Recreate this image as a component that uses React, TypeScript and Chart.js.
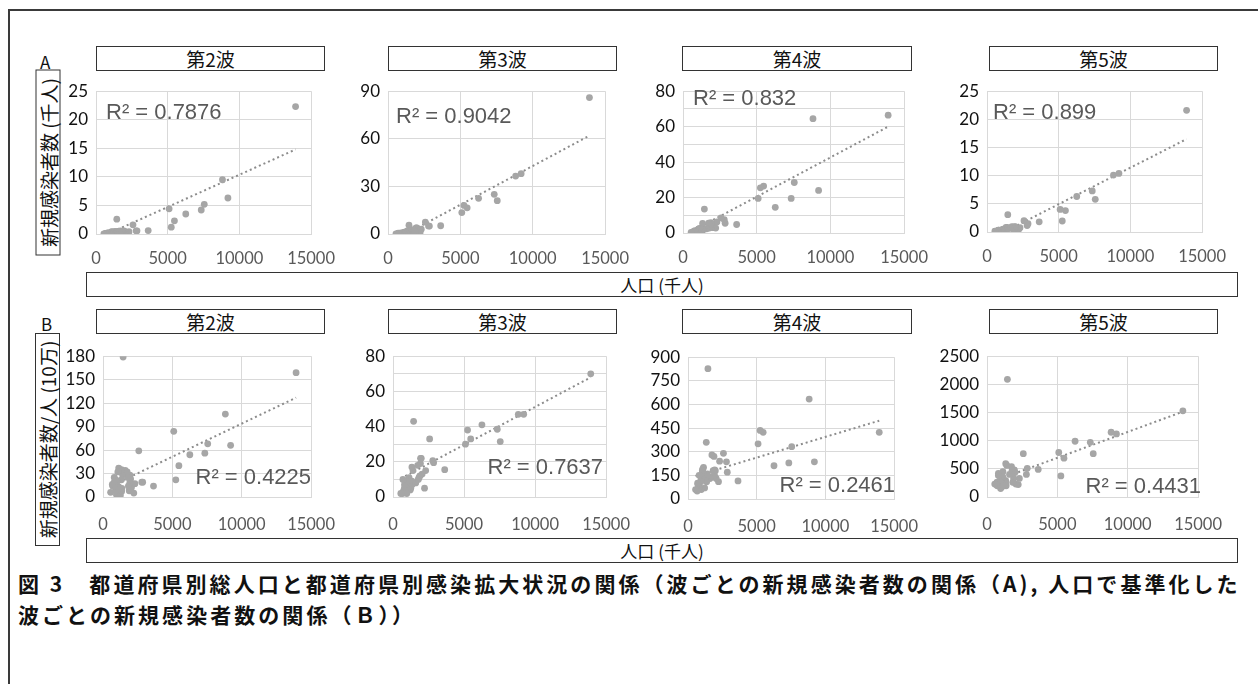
import React, { useEffect, useRef } from "react";
import { Chart, registerables } from "chart.js";
Chart.register(...registerables);

// Prefecture population (thousands)
const population = [13920, 9200, 8820, 7550, 7340, 6260, 5470, 5250, 5100, 3640, 2860, 2800, 2580, 2300, 2220, 2050, 1990, 1940, 1930, 1890, 1830, 1780, 1740, 1600, 1450, 1410, 1360, 1340, 1330, 1330, 1250, 1210, 1130, 1130, 1070, 1070, 1040, 970, 950, 930, 810, 810, 770, 730, 700, 670, 550];

// A: new cases per wave
const casesWave2 = [22.3, 6.3, 9.5, 5.2, 4.2, 3.5, 2.3, 1.2, 4.4, 0.6, 0.55, 0.55, 1.6, 0.4, 0.1, 0.25, 0.45, 0.55, 0.35, 0.15, 0.25, 0.45, 0.55, 0.5, 2.6, 0.4, 0.15, 0.1, 0.45, 0.3, 0.03, 0.03, 0.4, 0.15, 0.35, 0.05, 0.2, 0.03, 0.08, 0.2, 0.2, 0.15, 0.1, 0.1, 0.1, 0.1, 0.03];
const casesWave3 = [86, 38, 36.5, 21, 25, 22.5, 16.5, 18, 13.5, 5.2, 5.0, 5.1, 7.5, 3.0, 1.0, 2.3, 3.9, 3.8, 3.2, 2.0, 1.8, 1.6, 2.8, 1.1, 5.5, 1.9, 1.0, 0.8, 2.0, 1.1, 0.55, 0.4, 1.1, 0.8, 0.85, 0.55, 0.45, 0.2, 0.4, 0.75, 0.35, 0.5, 0.3, 0.2, 0.6, 0.12, 0.1];
const casesWave4 = [66.5, 24, 64.5, 28.5, 19.5, 14.5, 26.5, 25.5, 19.5, 4.8, 5.5, 7.5, 8.5, 6.2, 2.8, 3.0, 4.0, 4.1, 3.3, 5.8, 3.7, 2.8, 5.5, 2.35, 13.5, 2.55, 1.7, 2.0, 5.4, 2.1, 1.7, 0.95, 2.55, 1.9, 2.05, 2.3, 2.1, 0.65, 1.3, 1.15, 1.35, 0.75, 0.6, 0.75, 0.8, 0.4, 0.4];
const casesWave5 = [21.6, 10.4, 10.1, 5.8, 7.3, 6.3, 3.8, 1.95, 4.0, 1.8, 1.48, 1.14, 2.0, 0.77, 0.5, 0.48, 0.89, 0.94, 0.84, 0.63, 0.48, 0.85, 0.95, 0.65, 3.07, 0.8, 0.28, 0.31, 0.8, 0.39, 0.36, 0.26, 0.52, 0.4, 0.41, 0.2, 0.26, 0.15, 0.29, 0.25, 0.35, 0.31, 0.2, 0.15, 0.18, 0.15, 0.13];

// B: new cases per population
const perCapWave2 = [159, 66, 106, 68, 56, 54, 40, 22, 84, 14, 19, 19, 59, 17, 5, 12, 23, 28, 18, 8, 14, 25, 32, 34, 179, 28, 11, 7, 35, 22, 2, 2.5, 37, 13, 32, 5, 20, 3, 9, 22, 25, 19, 14, 14, 14, 16, 6];
const perCapWave3 = [70, 47, 47, 31.5, 38.5, 41, 33, 38, 30, 15.5, 19.5, 20.6, 33, 15, 5, 13, 22, 22, 19, 12, 11, 10, 18, 8, 43, 15, 8, 7, 17, 9, 5, 4, 11, 8, 9, 6, 5, 2, 5, 9, 5, 7, 4, 3, 10, 2, 2];
const perCapWave4 = [423, 236, 634, 332, 229, 211, 423, 435, 350, 115, 170, 236, 290, 240, 110, 130, 180, 185, 150, 270, 180, 140, 280, 130, 827, 160, 110, 130, 360, 140, 120, 70, 200, 150, 170, 190, 180, 60, 120, 110, 150, 80, 70, 90, 100, 50, 60];
const perCapWave5 = [1530, 1120, 1150, 770, 970, 990, 690, 375, 790, 490, 510, 400, 770, 330, 220, 230, 440, 480, 430, 330, 260, 470, 540, 400, 2090, 560, 200, 230, 590, 290, 280, 210, 450, 350, 380, 180, 250, 150, 300, 270, 420, 380, 250, 200, 260, 220, 230];

// Linear trend line values at the smallest and largest population
const trendStartA = [-0.3, -3.3, 0.75, -0.83];
const trendEndA = [14.8, 62, 60, 16.5];
const trendStartB = [13.8, 10.5, 146, 287];
const trendEndB = [127, 68, 497, 1515];

const waveTitles = ["第2波", "第3波", "第4波", "第5波"];
const r2A = ["R² = 0.7876", "R² = 0.9042", "R² = 0.832", "R² = 0.899"];
const r2B = ["R² = 0.4225", "R² = 0.7637", "R² = 0.2461", "R² = 0.4431"];

const yMaxA = [25, 90, 80, 25];
const yStepA = [5, 30, 10, 5];
const yLabelStepA = [5, 30, 20, 5];
const yMaxB = [180, 80, 900, 2500];
const yStepB = [30, 10, 150, 500];
const yLabelStepB = [30, 20, 150, 500];
const xTicks = [0, 5000, 10000, 15000];

// layout (page pixels)
const rectsA: number[][] = [[96, 85, 320, 234], [388, 85, 614, 234], [683, 85, 913, 233], [987, 85, 1211, 232]];
const rectsB: number[][] = [[103, 350, 323, 497], [393, 350, 618, 497], [688, 351, 906, 499], [987, 350, 1210, 497]];
const r2PosA = [[10, 28], [8, 32], [10, 14], [6, 28]];
const r2PosB = [[0, -13], [-3, -23], [1, -7], [3, -4]];
const titleBoxX = [[96, 325], [388, 617], [682, 912], [989, 1218]];

type PanelProps = {
  ys: number[];
  trend: [number, number];
  yMax: number;
  yStep: number;
  labelStep: number;
  rect: number[];
  r2: string;
  r2Pos: number[];
  r2Align: "left" | "right";
  xPad: number;
};

const YW = 50;
const XH = 42;
const PT = 12;
const PR = 30;

function Panel(p: PanelProps) {
  const ref = useRef<HTMLCanvasElement | null>(null);
  const [l, t, r, b] = p.rect;
  const w = YW + (r - l) + PR;
  const h = PT + (b - t) + XH;
  useEffect(() => {
    if (!ref.current) return;
    const pts = population.map((x, i) => ({ x, y: p.ys[i] }));
    const xmin = Math.min(...population);
    const xmax = Math.max(...population);
    const label = {
      id: "r2label",
      afterDatasetsDraw(chart: any) {
        const ctx = chart.ctx;
        const a = chart.chartArea;
        ctx.save();
        ctx.font = '22px "Liberation Sans", Arial, sans-serif';
        ctx.fillStyle = "#595959";
        ctx.textBaseline = "alphabetic";
        if (p.r2Align === "left") {
          ctx.textAlign = "left";
          ctx.fillText(p.r2, a.left + p.r2Pos[0], a.top + p.r2Pos[1]);
        } else {
          ctx.textAlign = "right";
          ctx.fillText(p.r2, a.right + p.r2Pos[0], a.bottom + p.r2Pos[1]);
        }
        ctx.restore();
      },
    };
    const chart = new Chart(ref.current, {
      type: "scatter",
      data: {
        datasets: [
          {
            data: pts,
            backgroundColor: "#a6a6a6",
            borderWidth: 0,
            pointRadius: 3.4,
            pointHoverRadius: 3.4,
          },
          {
            type: "line",
            data: [
              { x: xmin, y: p.trend[0] },
              { x: xmax, y: p.trend[1] },
            ],
            borderColor: "#8c8c8c",
            borderWidth: 2,
            borderDash: [2, 3],
            pointRadius: 0,
            fill: false,
          } as any,
        ],
      },
      options: {
        animation: false,
        responsive: false,
        events: [],
        layout: { padding: { left: 0, right: PR, top: PT, bottom: 0 } },
        plugins: { legend: { display: false }, tooltip: { enabled: false } },
        scales: {
          x: {
            type: "linear",
            min: 0,
            max: 15000,
            afterBuildTicks: (s: any) => {
              s.ticks = xTicks.map((v) => ({ value: v }));
            },
            afterFit: (s: any) => {
              s.height = XH;
            },
            grid: { color: "#d9d9d9", drawTicks: false, lineWidth: 1 },
            border: { color: "#d9d9d9" },
            ticks: {
              autoSkip: false,
              maxRotation: 0,
              padding: p.xPad,
              color: "#595959",
              font: { family: "Lato", size: 16.5 },
              callback: (v: any) => String(v),
            },
          },
          y: {
            type: "linear",
            min: 0,
            max: p.yMax,
            ticks: {
              stepSize: p.yStep,
              autoSkip: false,
              padding: 8,
              color: "#111",
              font: { family: "Lato", size: 17 },
              callback: (v: any) => (Math.round(v) % p.labelStep === 0 ? String(v) : ""),
            },
            afterFit: (s: any) => {
              s.width = YW;
            },
            grid: { color: "#d9d9d9", drawTicks: false, lineWidth: 1 },
            border: { color: "#d9d9d9" },
          },
        },
      },
      plugins: [label],
    });
    return () => chart.destroy();
  }, []);
  return (
    <canvas
      ref={ref}
      width={w}
      height={h}
      style={{ position: "absolute", left: l - YW, top: t - PT, width: w, height: h }}
    />
  );
}

const jp = '"Noto Sans CJK JP", "Noto Sans", sans-serif';

function Box(props: { l: number; t: number; r: number; b: number; text: string; size?: number }) {
  return (
    <div
      style={{
        position: "absolute",
        left: props.l,
        top: props.t,
        width: props.r - props.l,
        height: props.b - props.t,
        border: "1.5px solid #333",
        boxSizing: "border-box",
        display: "flex",
        alignItems: "center",
        justifyContent: "center",
        font: `${props.size || 19}px ${jp}`,
        color: "#111",
        background: "#fff",
        whiteSpace: "nowrap",
      }}
    >
      {props.text}
    </div>
  );
}

function VBox(props: { cx: number; t: number; b: number; text: string }) {
  const len = props.b - props.t;
  const cy = (props.t + props.b) / 2;
  return (
    <div
      style={{
        position: "absolute",
        left: props.cx - len / 2,
        top: cy - 12.5,
        width: len,
        height: 25,
        border: "1.5px solid #333",
        boxSizing: "border-box",
        transform: "rotate(-90deg)",
        display: "flex",
        alignItems: "center",
        justifyContent: "center",
        font: `19px ${jp}`,
        color: "#111",
        whiteSpace: "nowrap",
        lineHeight: "23px",
      }}
    >
      {props.text}
    </div>
  );
}

const captionStyle: React.CSSProperties = {
  position: "absolute",
  left: 18,
  font: `bold 21px ${jp}`,
  letterSpacing: "3.05px",
  color: "#111",
  whiteSpace: "nowrap",
  lineHeight: "26px",
};

export default function App() {
  const seriesA = [casesWave2, casesWave3, casesWave4, casesWave5];
  const seriesB = [perCapWave2, perCapWave3, perCapWave4, perCapWave5];
  return (
    <div
      style={{
        position: "absolute",
        left: 0,
        top: 0,
        width: 1258,
        height: 684,
        overflow: "hidden",
        background: "#fff",
      }}
    >
      <div
        style={{
          position: "absolute",
          left: 8,
          top: 9,
          width: 1300,
          height: 720,
          borderTop: "2px solid #3a3a3a",
          borderLeft: "2px solid #3a3a3a",
        }}
      />
      <div style={{ position: "absolute", left: 40, top: 49, font: `17px ${jp}`, color: "#111" }}>A</div>
      <div style={{ position: "absolute", left: 41, top: 311, font: `17px ${jp}`, color: "#111" }}>B</div>
      {waveTitles.map((tt, i) => (
        <Box key={"ta" + i} l={titleBoxX[i][0]} r={titleBoxX[i][1]} t={46} b={71} text={tt} />
      ))}
      {waveTitles.map((tt, i) => (
        <Box key={"tb" + i} l={titleBoxX[i][0]} r={titleBoxX[i][1]} t={309} b={334} text={tt} />
      ))}
      <VBox cx={47.5} t={69} b={255} text="新規感染者数 (千人)" />
      <VBox cx={47.5} t={333} b={546} text="新規感染者数/人 (10万)" />
      {seriesA.map((ys, i) => (
        <Panel
          key={"pa" + i}
          ys={ys}
          trend={[trendStartA[i], trendEndA[i]]}
          yMax={yMaxA[i]}
          yStep={yStepA[i]}
          labelStep={yLabelStepA[i]}
          rect={rectsA[i]}
          r2={r2A[i]}
          r2Pos={r2PosA[i]}
          r2Align="left"
          xPad={15}
        />
      ))}
      {seriesB.map((ys, i) => (
        <Panel
          key={"pb" + i}
          ys={ys}
          trend={[trendStartB[i], trendEndB[i]]}
          yMax={yMaxB[i]}
          yStep={yStepB[i]}
          labelStep={yLabelStepB[i]}
          rect={rectsB[i]}
          r2={r2B[i]}
          r2Pos={r2PosB[i]}
          r2Align="right"
          xPad={18}
        />
      ))}
      <Box l={86} r={1238} t={272} b={297} text="人口 (千人)" size={17} />
      <Box l={86} r={1238} t={538} b={563} text="人口 (千人)" size={17} />
      <div style={{ ...captionStyle, top: 570 }}>
        図 3　都道府県別総人口と都道府県別感染拡大状況の関係（波ごとの新規感染者数の関係（A), 人口で基準化した
      </div>
      <div style={{ ...captionStyle, top: 601 }}>波ごとの新規感染者数の関係（Ｂ））</div>
    </div>
  );
}
